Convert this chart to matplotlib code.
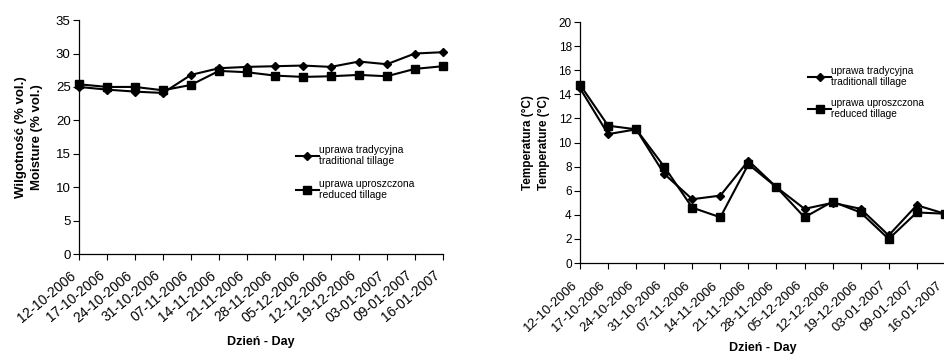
import matplotlib.pyplot as plt
from matplotlib.lines import Line2D

plt.rcParams["font.family"] = ["Liberation Sans", "DejaVu Sans"]

dates = [
    "12-10-2006", "17-10-2006", "24-10-2006", "31-10-2006", "07-11-2006",
    "14-11-2006", "21-11-2006", "28-11-2006", "05-12-2006", "12-12-2006",
    "19-12-2006", "03-01-2007", "09-01-2007", "16-01-2007",
]

# soil moisture, % vol.
moist_trad = [25.0, 24.6, 24.3, 24.1, 26.8, 27.8, 28.0, 28.1, 28.2, 28.0, 28.8, 28.4, 30.0, 30.2]
moist_red = [25.4, 25.0, 25.0, 24.5, 25.3, 27.4, 27.2, 26.7, 26.5, 26.6, 26.8, 26.6, 27.7, 28.1]

# soil temperature, deg C
temp_trad = [14.5, 10.7, 11.1, 7.4, 5.3, 5.6, 8.5, 6.3, 4.5, 5.0, 4.5, 2.3, 4.8, 4.1]
temp_red = [14.8, 11.4, 11.1, 8.0, 4.6, 3.8, 8.2, 6.3, 3.8, 5.1, 4.2, 2.0, 4.2, 4.1]


def style_axis(ax, ymax, ystep, ylabel, fs, date_fs, rot, xpad, ylabelpad, xlabelpad):
    x = range(len(dates))
    ax.set_xlim(0, len(dates) - 1)
    ax.set_ylim(0, ymax)
    ax.set_yticks(range(0, ymax + 1, ystep))
    ax.set_xticks(list(x))
    ax.set_xticklabels(dates, rotation=rot, ha="right", va="bottom",
                       rotation_mode="anchor", fontsize=date_fs)
    ax.tick_params(axis="y", labelsize=fs, length=4, width=0.8, direction="out", pad=2)
    ax.tick_params(axis="x", length=4, width=0.8, direction="out", pad=xpad)
    for side in ("top", "right"):
        ax.spines[side].set_visible(False)
    for side in ("left", "bottom"):
        ax.spines[side].set_linewidth(0.9)
    ax.set_ylabel(ylabel, fontsize=fs, fontweight="bold", linespacing=1.45, labelpad=ylabelpad)
    ax.set_xlabel("Dzień - Day", fontsize=9, fontweight="bold", labelpad=xlabelpad)


def draw_series(ax, trad, red):
    x = range(len(dates))
    ax.plot(x, trad, color="black", lw=1.5, marker="D", ms=4.5, clip_on=False, zorder=3)
    ax.plot(x, red, color="black", lw=1.5, marker="s", ms=6, clip_on=False, zorder=3)


def add_legend(ax, anchor, trad_label, fs, spacing):
    handles = [
        Line2D([], [], color="black", lw=1.5, marker="D", ms=4.5),
        Line2D([], [], color="black", lw=1.5, marker="s", ms=6),
    ]
    labels = [trad_label, "uprawa uproszczona\nreduced tillage"]
    ax.legend(handles, labels, loc="upper left", bbox_to_anchor=anchor, frameon=False,
              fontsize=fs, handlelength=2.2, handletextpad=0.05, labelspacing=spacing,
              borderaxespad=0)


fig = plt.figure(figsize=(9.45, 3.56), dpi=100)

ax1 = fig.add_axes([0.0836, 0.2865, 0.385, 0.657])
draw_series(ax1, moist_trad, moist_red)
style_axis(ax1, 35, 5, "Wilgotność (% vol.)\nMoisture (% vol.)",
           fs=9.5, date_fs=10, rot=40, xpad=14, ylabelpad=9, xlabelpad=8)
add_legend(ax1, (0.585, 0.485), "uprawa tradycyjna\ntraditional tillage", 7.5, 1.2)

ax2 = fig.add_axes([0.6138, 0.261, 0.386, 0.677])
draw_series(ax2, temp_trad, temp_red)
style_axis(ax2, 20, 2, "Temperatura (°C)\nTemperature (°C)",
           fs=8.5, date_fs=9.5, rot=43, xpad=14, ylabelpad=6, xlabelpad=5)
add_legend(ax2, (0.615, 0.835), "uprawa tradycyjna\ntraditionall tillage", 7.3, 1.0)

fig.savefig("out.png", dpi=100)
